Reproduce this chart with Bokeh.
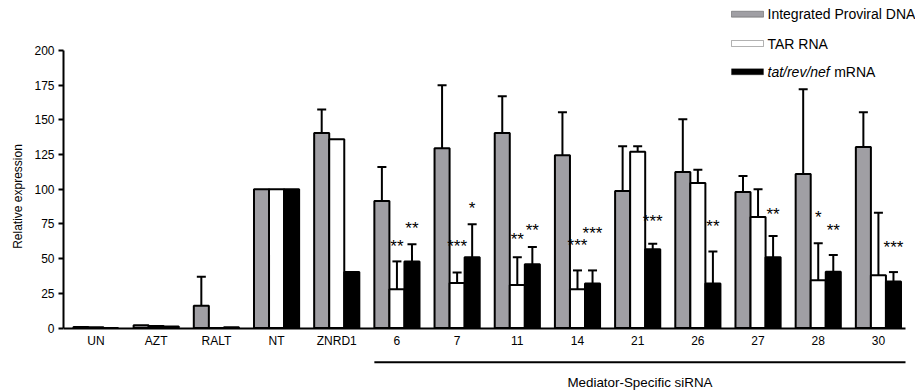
import math
from bokeh.plotting import figure
from bokeh.models import Range1d, FixedTicker, ColumnDataSource, Label, BoxAnnotation
from bokeh.core.properties import value
from bokeh.embed import file_html
from bokeh.resources import INLINE

nan = float("nan")

# ---- data ----
categories = ["UN", "AZT", "RALT", "NT", "ZNRD1", "6", "7", "11", "14", "21", "26", "27", "28", "30"]
series_names = ["Integrated Proviral DNA", "TAR RNA", "tat/rev/nef mRNA"]

dna_values = [0.8, 2.0, 16.0, 100, 140.5, 91.5, 129.5, 140.5, 124.5, 98.8, 112.5, 98.0, 111.0, 130.5]
dna_err_top = [nan, nan, 37.0, nan, 157.5, 116.0, 175.0, 167.0, 155.5, 131.0, 150.5, 109.5, 172.0, 155.5]

tar_values = [0.5, 1.5, 0.0, 100, 136.0, 28.0, 32.5, 31.0, 28.0, 127.0, 104.5, 80.0, 34.5, 38.0]
tar_err_top = [nan, nan, nan, nan, nan, 48.0, 40.0, 51.0, 41.5, 131.0, 114.0, 100.0, 61.0, 83.0]

trn_values = [0.0, 1.0, 0.5, 100, 40.3, 48.0, 51.0, 46.0, 32.0, 56.7, 32.0, 51.0, 40.6, 33.6]
trn_err_top = [nan, nan, nan, nan, nan, 60.3, 74.7, 58.3, 41.5, 60.8, 55.2, 66.3, 52.6, 40.3]

# significance marks: category, series index (1 = TAR RNA, 2 = tat/rev/nef), label, height
star_cat = ["6", "6", "7", "7", "11", "11", "14", "14", "21", "26", "27", "28", "28", "30"]
star_series = [1, 2, 1, 2, 1, 2, 1, 2, 2, 2, 2, 1, 2, 2]
star_text = ["**", "**", "***", "*", "**", "**", "***", "***", "***", "**", "**", "*", "**", "***"]
star_y = [59, 72, 59, 86, 63.7, 70, 59.6, 68, 76.4, 72.8, 82, 79.6, 70.4, 58.3]

y_ticks = [0, 25, 50, 75, 100, 125, 150, 175, 200]
group_label = "Mediator-Specific siRNA"
group_first = "6"

# ---- styling / layout ----
FONT = "Liberation Sans"
colors = ["#a09fa4", "#ffffff", "#000000"]
bw = 0.25
W, H = 915, 392
LEFT = 63                      # frame left edge (px)
AX_W = 842                     # drawn x-axis length (px)
Y0_PX, Y200_PX = 327.5, 50.0   # pixel rows of 0 and 200
X0, XA1 = -0.54, 13.45         # x-axis extent (data)
ppu_x = AX_W / (XA1 - X0)
X1 = X0 + (W - LEFT) / ppu_x   # frame extends to the canvas edge
ppu_y = (Y0_PX - Y200_PX) / 200.0
YB = -(H - Y0_PX) / ppu_y
YT = Y0_PX / ppu_y

p = figure(width=W, height=H, output_backend="svg", toolbar_location=None,
           x_range=Range1d(X0, X1), y_range=Range1d(YB, YT),
           min_border_left=LEFT, min_border_right=0, min_border_top=0, min_border_bottom=0)
p.outline_line_color = None
p.xgrid.visible = False
p.ygrid.visible = False
p.background_fill_color = "white"
p.border_fill_color = "white"

xs = list(range(len(categories)))
all_vals = [dna_values, tar_values, trn_values]
all_errs = [dna_err_top, tar_err_top, trn_err_top]

for k in range(3):
    off = (k - 1) * bw
    src = ColumnDataSource(dict(x=[x + off for x in xs], top=all_vals[k]))
    p.vbar(x="x", top="top", bottom=0, width=bw, source=src,
           fill_color=colors[k], line_color="black", line_width=2)

for k in range(3):
    off = (k - 1) * bw
    ex, ev, et = [], [], []
    for i, e in enumerate(all_errs[k]):
        if not math.isnan(e):
            ex.append(xs[i] + off)
            ev.append(all_vals[k][i])
            et.append(e)
    esrc = ColumnDataSource(dict(x=ex, y0=ev, y1=et))
    p.segment(x0="x", y0="y0", x1="x", y1="y1", source=esrc, line_color="black", line_width=2)
    p.scatter(x="x", y="y1", marker="dash", size=9, source=esrc, line_color="black", line_width=2)

sx = [categories.index(c) + (s - 1) * bw for c, s in zip(star_cat, star_series)]
ssrc = ColumnDataSource(dict(x=sx, y=star_y, t=star_text))
p.text(x="x", y="y", text="t", source=ssrc, text_font=value(FONT), text_font_size="17px",
       text_align="center", text_baseline="middle", text_color="black")

# axes
xa = p.xaxis[0]
xa.fixed_location = 0
xa.bounds = (X0, XA1)
xa.ticker = FixedTicker(ticks=xs)
xa.major_label_overrides = {i: c for i, c in enumerate(categories)}
xa.major_tick_line_color = None
xa.major_tick_in = 0
xa.major_tick_out = 0
xa.minor_tick_line_color = None
xa.axis_line_width = 2
xa.axis_line_color = "black"
xa.major_label_standoff = 6
xa.major_label_text_font = FONT
xa.major_label_text_font_size = "12px"
xa.major_label_text_color = "black"

ya = p.yaxis[0]
ya.bounds = (0, 200)
ya.ticker = FixedTicker(ticks=y_ticks)
ya.minor_tick_line_color = None
ya.major_tick_in = 0
ya.major_tick_out = 5
ya.major_tick_line_width = 2
ya.axis_line_width = 2
ya.axis_line_color = "black"
ya.major_label_standoff = 4
ya.major_label_text_font = FONT
ya.major_label_text_font_size = "12px"
ya.major_label_text_color = "black"
ya.axis_label = "Relative expression"
ya.axis_label_text_font = FONT
ya.axis_label_text_font_size = "12px"
ya.axis_label_text_font_style = "normal"
ya.axis_label_text_color = "black"
ya.axis_label_standoff = 6

# group bracket below the axis (screen units are measured from the frame's bottom-left)
g_left = categories.index(group_first) - 1.5 * bw
p.add_layout(BoxAnnotation(left=g_left, right=XA1, left_units="data", right_units="data",
                           bottom=29.3, top=31.3, bottom_units="screen", top_units="screen",
                           fill_color="black", fill_alpha=1, line_color=None))
p.add_layout(Label(x=(g_left + XA1) / 2, y=10, x_units="data", y_units="screen", text=group_label,
                   text_font=FONT, text_font_size="13.4px", text_align="center",
                   text_baseline="middle", text_color="black"))

# legend (manual, to allow the italic gene names)
LFS = 14
leg_y = [378.3, 349.0, 320.7]
leg_x0, leg_x1, leg_tx = 668, 700, 704
for k in range(3):
    p.add_layout(BoxAnnotation(left=leg_x0, right=leg_x1, bottom=leg_y[k] - 3, top=leg_y[k] + 3,
                               left_units="screen", right_units="screen",
                               bottom_units="screen", top_units="screen",
                               fill_color=colors[k], fill_alpha=1, line_color="black", line_width=1))
p.add_layout(Label(x=leg_tx, y=leg_y[0], x_units="screen", y_units="screen", text=series_names[0],
                   text_font=FONT, text_font_size=f"{LFS}px", text_baseline="middle", text_color="black"))
p.add_layout(Label(x=leg_tx, y=leg_y[1], x_units="screen", y_units="screen", text=series_names[1],
                   text_font=FONT, text_font_size=f"{LFS}px", text_baseline="middle", text_color="black"))
gene, rest = series_names[2].split(" ", 1)
p.add_layout(Label(x=leg_tx, y=leg_y[2], x_units="screen", y_units="screen", text=gene,
                   text_font=FONT, text_font_size=f"{LFS}px", text_font_style="italic",
                   text_baseline="middle", text_color="black"))
p.add_layout(Label(x=leg_tx + (4.447 + 0.278) * LFS + 0.5, y=leg_y[2], x_units="screen", y_units="screen",
                   text=rest, text_font=FONT, text_font_size=f"{LFS}px",
                   text_baseline="middle", text_color="black"))

open("out.html", "w").write(file_html(p, INLINE))
